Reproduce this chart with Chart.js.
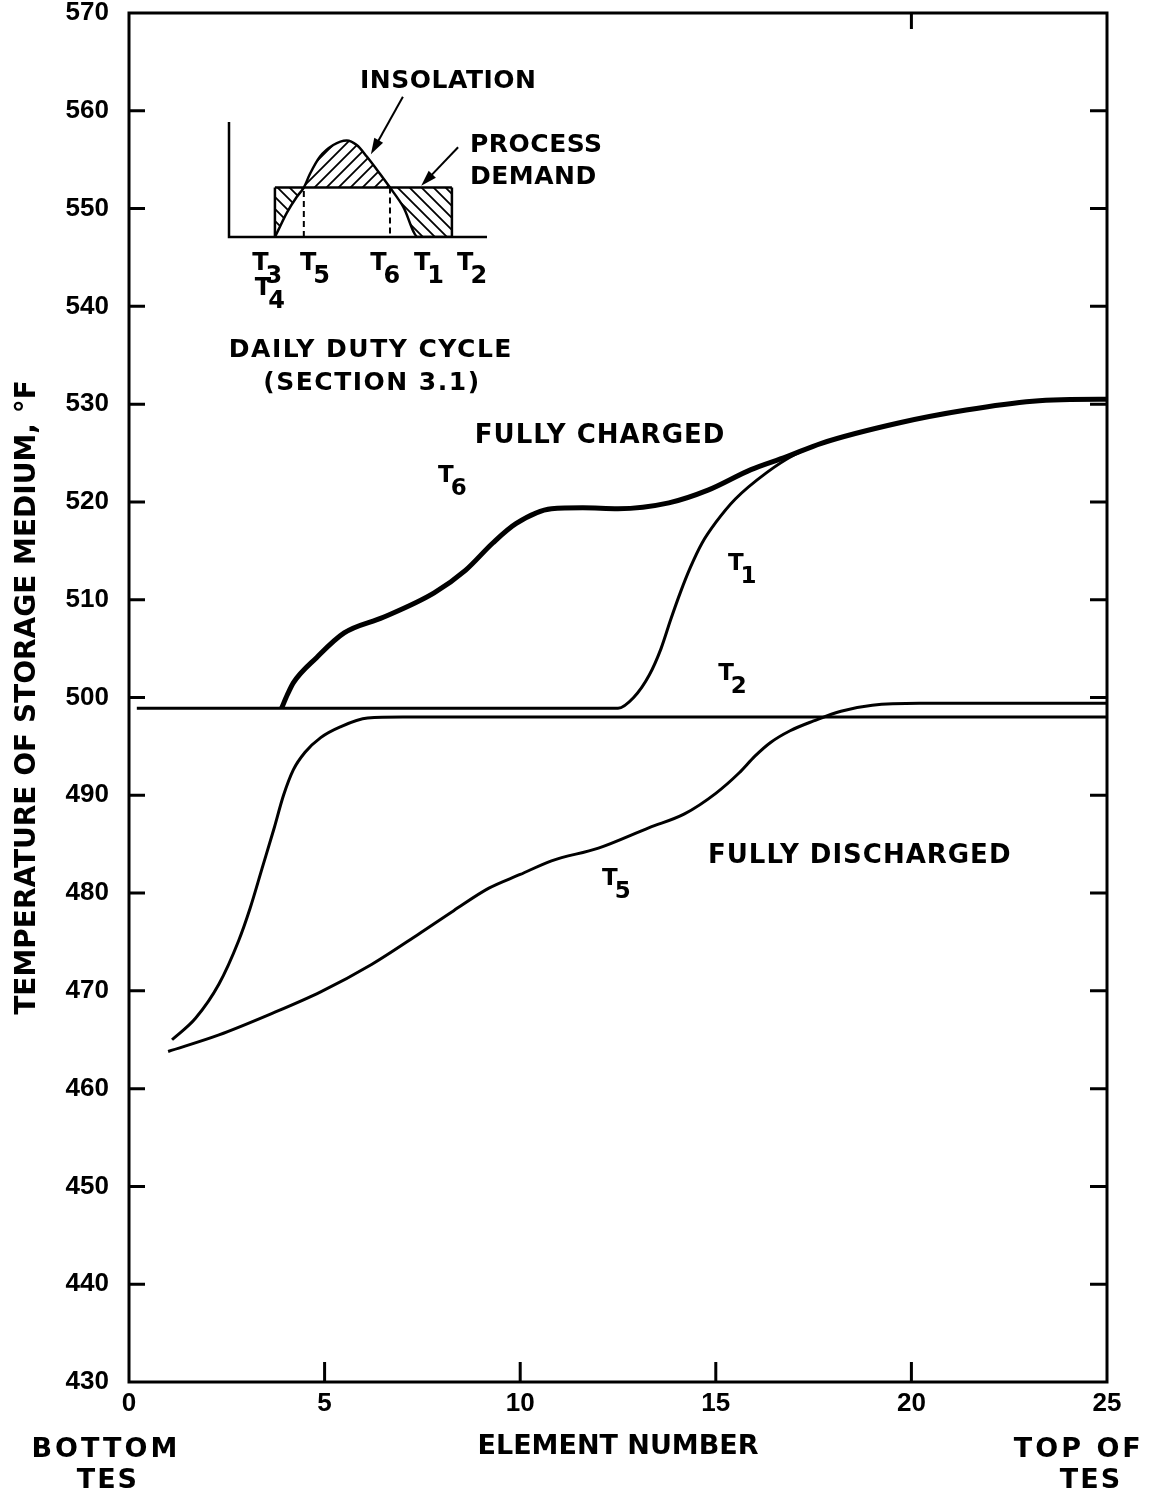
<!DOCTYPE html>
<html lang="en">
<head>
<meta charset="UTF-8">
<title>TES Temperature Profiles</title>
<script src="https://cdn.jsdelivr.net/npm/chart.js"></script>
<style>
  html, body { margin: 0; padding: 0; background: #fff; }
  #wrap { position: relative; width: 1149px; height: 1495px; }
  #mainChart { position: absolute; left: 0; top: 0; }
  #cycleChart { position: absolute; left: 200px; top: 50px; }
</style>
</head>
<body>
<div id="wrap">
  <canvas id="mainChart" width="1149" height="1495"></canvas>
  <canvas id="cycleChart" width="440" height="350"></canvas>
</div>
<script>
// temperature profiles along the tank (element number vs deg F)
const elemT6 = [3.9, 4.05, 4.2, 4.8, 5.5, 6.5, 7.8, 8.6, 9.3, 9.9, 10.8, 11.6, 12.5, 13.8, 14.8, 15.9, 16.8, 17.7, 19.7, 21.4, 23.1, 24.8, 25];
const tempT6 = [498.9, 500.3, 501.5, 504.1, 506.6, 508.2, 510.7, 513.0, 515.8, 517.8, 519.3, 519.4, 519.3, 519.9, 521.2, 523.3, 524.6, 526.0, 528.1, 529.4, 530.3, 530.5, 530.5];

const elemT1 = [0.2, 12.5, 12.9, 13.3, 13.6, 13.85, 14.1, 14.35, 14.65, 15.0, 15.5, 16.3, 17.0, 17.7];
const tempT1 = [498.9, 498.9, 500.0, 502.3, 505.0, 508.0, 510.8, 513.3, 515.8, 517.9, 520.3, 523.0, 524.8, 526.0];

const elemT2 = [1.1, 1.7, 2.3, 2.8, 3.1, 3.4, 3.7, 3.95, 4.2, 4.5, 4.9, 5.4, 6.1, 7.0, 25];
const tempT2 = [465.0, 467.2, 470.7, 475.1, 478.5, 482.5, 486.5, 490.0, 492.6, 494.4, 495.9, 497.0, 497.9, 498.0, 498.0];

const elemT5 = [1.0, 2.3, 3.6, 4.9, 6.2, 7.4, 8.3, 9.2, 10.0, 10.8, 12.0, 13.3, 14.2, 15.0, 15.6, 16.0, 16.4, 16.9, 17.5, 18.2, 19.0, 20.2, 25];
const tempT5 = [463.8, 465.5, 467.6, 469.9, 472.7, 475.8, 478.2, 480.5, 481.9, 483.3, 484.6, 486.7, 488.1, 490.2, 492.3, 494.0, 495.4, 496.6, 497.6, 498.6, 499.2, 499.4, 499.4];

// daily duty cycle sketch (time of day vs relative power)
const cycleTimes = [1.78, 2.9, 6.24, 7.33, 8.64];
const cycleNames = ['3', '5', '6', '1', '2'];
const insolTime = [1.78, 1.91, 2.24, 2.63, 2.9, 3.14, 3.53, 4.04, 4.56, 4.95, 5.34, 5.85, 6.24, 6.76, 7.33, 8.64];
const insolLevel = [0, 0.06, 0.21, 0.35, 0.43, 0.55, 0.70, 0.80, 0.84, 0.80, 0.70, 0.55, 0.43, 0.26, 0, 0];
const demandLevel = 0.43;

const pts = (xs, ys) => xs.map((x, i) => ({ x: x, y: ys[i] }));
const TEXT_FONT = '"DejaVu Sans", sans-serif';
const NUM_FONT = '"Liberation Sans", Arial, sans-serif';

function curve(xs, ys, width) {
  return {
    data: pts(xs, ys),
    borderColor: '#000',
    borderWidth: width,
    pointRadius: 0,
    fill: false,
    cubicInterpolationMode: 'monotone'
  };
}

// "T" with a lowered digit
function tLabel(ctx, x, y, sub, size) {
  ctx.font = 'bold ' + size + 'px ' + TEXT_FONT;
  ctx.textAlign = 'left';
  ctx.textBaseline = 'alphabetic';
  ctx.fillText('T', x, y);
  const w = ctx.measureText('T').width;
  ctx.fillText(sub, x + w - 3, y + size * 0.55);
}

function text(ctx, s, x, y, size, align, spacing) {
  ctx.font = 'bold ' + size + 'px ' + TEXT_FONT;
  ctx.letterSpacing = (spacing || 0) + 'px';
  ctx.textAlign = align;
  ctx.textBaseline = 'alphabetic';
  ctx.fillText(s, x, y);
  ctx.letterSpacing = '0px';
}

const frame = {
  id: 'frame',
  afterDatasetsDraw(chart) {
    const { ctx, chartArea: a, scales: { x, y } } = chart;
    ctx.save();
    ctx.strokeStyle = '#000';
    ctx.fillStyle = '#000';
    ctx.lineWidth = 3;
    ctx.strokeRect(a.left, a.top, a.right - a.left, a.bottom - a.top);
    ctx.beginPath();
    y.ticks.forEach(t => {
      if (t.value <= y.min || t.value >= y.max) return;
      const py = y.getPixelForValue(t.value);
      ctx.moveTo(a.left, py); ctx.lineTo(a.left + 16, py);
      ctx.moveTo(a.right, py); ctx.lineTo(a.right - 17, py);
    });
    x.ticks.forEach(t => {
      if (t.value <= x.min || t.value >= x.max) return;
      const px = x.getPixelForValue(t.value);
      ctx.moveTo(px, a.bottom); ctx.lineTo(px, a.bottom - 20);
    });
    const topTick = x.getPixelForValue(20);
    ctx.moveTo(topTick, a.top); ctx.lineTo(topTick, a.top + 16);
    ctx.stroke();

    const X = v => x.getPixelForValue(v);
    const Y = v => y.getPixelForValue(v);
    text(ctx, 'FULLY CHARGED', X(8.84), Y(526.0), 26, 'left', 1);
    text(ctx, 'FULLY DISCHARGED', X(14.8), Y(483.1), 26, 'left', 1);
    tLabel(ctx, X(7.9), Y(522.0), '6', 23);
    tLabel(ctx, X(15.31), Y(513.0), '1', 23);
    tLabel(ctx, X(15.06), Y(501.8), '2', 23);
    tLabel(ctx, X(12.09), Y(480.8), '5', 23);

    const b = a.bottom;
    text(ctx, 'BOTTOM', X(-0.59), b + 75, 27, 'center', 3);
    text(ctx, 'TES', X(-0.54), b + 106, 27, 'center', 2);
    text(ctx, 'TOP OF', X(24.28), b + 75, 27, 'center', 3);
    text(ctx, 'TES', X(24.59), b + 106, 27, 'center', 2);
    ctx.restore();
  }
};

new Chart(document.getElementById('mainChart'), {
  type: 'line',
  data: {
    datasets: [
      curve(elemT6, tempT6, 5),
      curve(elemT1, tempT1, 3),
      curve(elemT2, tempT2, 3),
      curve(elemT5, tempT5, 3)
    ]
  },
  options: {
    responsive: false,
    animation: false,
    layout: { padding: { top: 13, right: 42 } },
    plugins: { legend: { display: false }, tooltip: { enabled: false } },
    scales: {
      x: {
        type: 'linear', min: 0, max: 25,
        afterFit: s => { s.height = 113; },
        grid: { display: false, drawTicks: false },
        border: { display: false },
        ticks: { stepSize: 5, padding: 9, color: '#000', font: { family: NUM_FONT, size: 26, weight: 'bold', lineHeight: 1.0 } },
        title: {
          display: true, text: 'ELEMENT NUMBER', color: '#000',
          font: { family: TEXT_FONT, size: 27, weight: 'bold', lineHeight: 1.2 },
          padding: { top: 0, bottom: 32 }
        }
      },
      y: {
        type: 'linear', min: 430, max: 570,
        afterFit: s => { s.width = 129; },
        grid: { display: false, drawTicks: true, tickLength: 20 },
        border: { display: false },
        ticks: { stepSize: 10, padding: 0, color: '#000', font: { family: NUM_FONT, size: 26, weight: 'bold', lineHeight: 0.95 } },
        title: {
          display: true, text: 'TEMPERATURE OF STORAGE MEDIUM, \u00B0F', color: '#000',
          font: { family: TEXT_FONT, size: 28, weight: 'bold', lineHeight: 1.2 },
          padding: { top: 11, bottom: 0 }
        }
      }
    }
  },
  plugins: [frame]
});

// hatch patterns for surplus / deficit areas
function hatch(rising) {
  const n = 12;
  const c = document.createElement('canvas');
  c.width = n; c.height = n;
  const g = c.getContext('2d');
  g.strokeStyle = '#000';
  g.lineWidth = 1.8;
  g.beginPath();
  if (rising) {
    g.moveTo(-2, n + 2); g.lineTo(n + 2, -2);
    g.moveTo(-2, 2); g.lineTo(2, -2);
    g.moveTo(n - 2, n + 2); g.lineTo(n + 2, n - 2);
  } else {
    g.moveTo(-2, -2); g.lineTo(n + 2, n + 2);
    g.moveTo(n - 2, -2); g.lineTo(n + 2, 2);
    g.moveTo(-2, n - 2); g.lineTo(2, n + 2);
  }
  g.stroke();
  return g.createPattern(c, 'repeat');
}

function arrow(ctx, x1, y1, x2, y2) {
  const ang = Math.atan2(y2 - y1, x2 - x1);
  const len = 16, half = 5;
  ctx.beginPath();
  ctx.moveTo(x1, y1);
  ctx.lineTo(x2 - Math.cos(ang) * len * 0.8, y2 - Math.sin(ang) * len * 0.8);
  ctx.stroke();
  ctx.beginPath();
  ctx.moveTo(x2, y2);
  ctx.lineTo(x2 - Math.cos(ang) * len - Math.sin(ang) * half, y2 - Math.sin(ang) * len + Math.cos(ang) * half);
  ctx.lineTo(x2 - Math.cos(ang) * len + Math.sin(ang) * half, y2 - Math.sin(ang) * len - Math.cos(ang) * half);
  ctx.closePath();
  ctx.fill();
}

const cycleDecor = {
  id: 'cycleDecor',
  afterDatasetsDraw(chart) {
    const { ctx, scales: { x, y } } = chart;
    const X = v => x.getPixelForValue(v);
    const Y = v => y.getPixelForValue(v);
    ctx.save();
    ctx.strokeStyle = '#000';
    ctx.fillStyle = '#000';
    ctx.lineWidth = 2.5;
    ctx.beginPath();
    ctx.moveTo(X(0), Y(1)); ctx.lineTo(X(0), Y(0)); ctx.lineTo(X(10), Y(0));
    ctx.stroke();

    ctx.lineWidth = 2;
    arrow(ctx, X(6.74), Y(1.22), X(5.5), Y(0.72));
    arrow(ctx, X(8.88), Y(0.78), X(7.45), Y(0.445));

    text(ctx, 'INSOLATION', X(5.08), Y(1.30), 25, 'left', 0.5);
    text(ctx, 'PROCESS', X(9.34), Y(0.739), 25, 'left', 0.5);
    text(ctx, 'DEMAND', X(9.34), Y(0.461), 25, 'left', 0.5);

    const labelX = [0.9, 2.75, 5.47, 7.17, 8.84];
    cycleNames.forEach((n, i) => tLabel(ctx, X(labelX[i]), Y(-0.287), n, 24));
    tLabel(ctx, X(1.0), Y(-0.5), '4', 24);

    text(ctx, 'DAILY DUTY CYCLE', X(5.5), Y(-1.04), 25, 'center', 1.5);
    text(ctx, '(SECTION 3.1)', X(5.54), Y(-1.33), 25, 'center', 1.5);
    ctx.restore();
  }
};

const demandSides = [
  { x: cycleTimes[0], y: 0 }, { x: cycleTimes[0], y: demandLevel },
  { x: 5, y: null },
  { x: cycleTimes[4], y: demandLevel }, { x: cycleTimes[4], y: 0 }
];
const crossings = [
  { x: cycleTimes[1], y: 0 }, { x: cycleTimes[1], y: demandLevel },
  { x: 5, y: null },
  { x: cycleTimes[2], y: demandLevel }, { x: cycleTimes[2], y: 0 }
];

new Chart(document.getElementById('cycleChart'), {
  type: 'line',
  data: {
    datasets: [
      {
        data: insolTime.map(t => ({ x: t, y: demandLevel })),
        borderColor: '#000', borderWidth: 2.5, pointRadius: 0, fill: false
      },
      {
        data: pts(insolTime, insolLevel),
        borderColor: '#000', borderWidth: 2.5, pointRadius: 0,
        cubicInterpolationMode: 'monotone',
        fill: { target: 0, above: hatch(true), below: hatch(false) }
      },
      {
        data: demandSides,
        borderColor: '#000', borderWidth: 2.5, pointRadius: 0, fill: false, spanGaps: false
      },
      {
        data: crossings,
        borderColor: '#000', borderWidth: 2, borderDash: [6, 4], pointRadius: 0, fill: false, spanGaps: false
      }
    ]
  },
  options: {
    responsive: false,
    animation: false,
    layout: { padding: { left: 29, right: 153, top: 72, bottom: 163 } },
    plugins: { legend: { display: false }, tooltip: { enabled: false } },
    scales: {
      x: { type: 'linear', min: 0, max: 10, display: false },
      y: { type: 'linear', min: 0, max: 1, display: false }
    }
  },
  plugins: [cycleDecor]
});
</script>
</body>
</html>
